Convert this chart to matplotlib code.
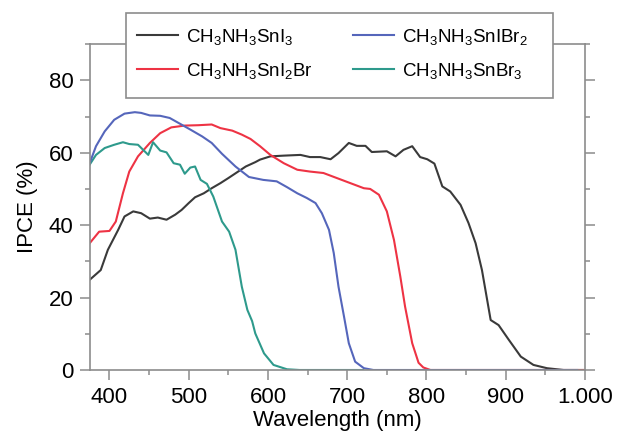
import numpy as np
import matplotlib
matplotlib.use('Agg')
import matplotlib.pyplot as plt
from matplotlib.ticker import MultipleLocator
from matplotlib.patches import Rectangle

plt.rcParams['font.family'] = ['Liberation Sans', 'DejaVu Sans']
plt.rcParams['mathtext.fontset'] = 'custom'
plt.rcParams['mathtext.rm'] = 'Liberation Sans'
plt.rcParams['mathtext.it'] = 'Liberation Sans:italic'

# IPCE spectra (wavelength in nm, IPCE in %)
wl_sni3 = [375, 389, 398, 411, 419, 430, 440, 451, 461, 472, 483, 491, 500, 508, 519, 529,
           540, 550, 561, 572, 584, 590, 603, 620, 641, 653, 666, 679, 689, 702, 712, 723,
           731, 750, 761, 771, 782, 792, 801, 810, 820, 830, 843, 853, 862, 870, 881, 891,
           904, 919, 935, 952, 973, 1000]
ipce_sni3 = [24.9, 27.6, 33.2, 38.7, 42.4, 43.8, 43.3, 41.8, 42.1, 41.5, 42.9, 44.2, 46.1,
             47.7, 48.8, 50.2, 51.6, 53.0, 54.6, 56.2, 57.4, 58.1, 59.0, 59.2, 59.4, 58.8,
             58.8, 58.2, 59.9, 62.7, 61.9, 61.9, 60.2, 60.4, 59.0, 60.8, 61.8, 58.8, 58.2,
             57.0, 50.7, 49.3, 45.6, 40.6, 35.0, 27.6, 13.8, 12.4, 8.3, 3.7, 1.4, 0.5, 0.0, 0.0]

wl_sni2br = [375, 387, 400, 408, 417, 425, 436, 451, 464, 478, 495, 512, 529, 540, 555, 567,
             578, 590, 603, 620, 637, 653, 670, 687, 704, 721, 729, 740, 750, 759, 767, 773,
             782, 790, 796, 805, 1000]
ipce_sni2br = [35.0, 38.2, 38.4, 41.0, 48.8, 54.8, 59.0, 62.7, 65.4, 67.0, 67.5, 67.6, 67.8,
               66.8, 66.1, 65.0, 63.8, 61.8, 59.4, 57.1, 55.3, 54.8, 54.4, 53.0, 51.6, 50.2,
               50.0, 48.4, 43.8, 35.9, 25.8, 17.5, 7.4, 2.0, 0.7, 0.0, 0.0]

wl_snibr2 = [375, 383, 394, 406, 419, 432, 440, 451, 464, 476, 489, 502, 517, 529, 542, 559,
             576, 594, 611, 624, 637, 649, 660, 668, 677, 683, 689, 696, 702, 710, 721, 733, 990]
ipce_snibr2 = [57.1, 61.8, 65.9, 69.1, 70.8, 71.2, 71.0, 70.3, 70.2, 69.6, 68.0, 66.4, 64.5,
               62.7, 59.7, 56.2, 53.3, 52.5, 52.1, 50.5, 48.8, 47.5, 46.1, 43.3, 38.7, 32.3,
               23.0, 14.7, 7.4, 2.3, 0.5, 0.0, 0.0]

wl_snbr3 = [375, 383, 394, 406, 417, 425, 436, 449, 455, 464, 472, 481, 489, 495, 502, 508,
            515, 523, 531, 542, 551, 559, 567, 574, 580, 584, 595, 607, 624, 640, 720]
ipce_snbr3 = [56.7, 59.4, 61.3, 62.2, 62.9, 62.4, 62.2, 59.4, 62.9, 60.6, 60.1, 57.1, 56.7,
              54.2, 55.9, 56.2, 52.5, 51.4, 47.9, 41.0, 38.2, 33.2, 23.0, 16.6, 13.5, 10.1,
              4.6, 1.4, 0.2, 0.0, 0.0]

lbl_sni3 = r'CH$_{\mathrm{3}}$NH$_{\mathrm{3}}$SnI$_{\mathrm{3}}$'
lbl_sni2br = r'CH$_{\mathrm{3}}$NH$_{\mathrm{3}}$SnI$_{\mathrm{2}}$Br'
lbl_snibr2 = r'CH$_{\mathrm{3}}$NH$_{\mathrm{3}}$SnIBr$_{\mathrm{2}}$'
lbl_snbr3 = r'CH$_{\mathrm{3}}$NH$_{\mathrm{3}}$SnBr$_{\mathrm{3}}$'

xticks = [400, 500, 600, 700, 800, 900, 1000]
xticklabels = ['400', '500', '600', '700', '800', '900', '1.000']
yticks = [0, 20, 40, 60, 80]

fig = plt.figure(figsize=(6.21, 4.41), dpi=100)
ax = fig.add_axes([0.145, 0.161, 0.797, 0.739])

lw = 1.5
l1, = ax.plot(wl_sni3, ipce_sni3, color='#3a3a3a', lw=lw, label=lbl_sni3)
l2, = ax.plot(wl_sni2br, ipce_sni2br, color='#ee3344', lw=lw, label=lbl_sni2br)
l4, = ax.plot(wl_snbr3, ipce_snbr3, color='#2e9a8c', lw=lw, label=lbl_snbr3)
l3, = ax.plot(wl_snibr2, ipce_snibr2, color='#5566bb', lw=lw, label=lbl_snibr2)

ax.set_xlim(375.5, 1000)
ax.set_ylim(0, 90)

ax.set_xticks(xticks)
ax.set_xticklabels(xticklabels)
ax.set_yticks(yticks)
ax.xaxis.set_minor_locator(MultipleLocator(50))
ax.yaxis.set_minor_locator(MultipleLocator(10))

spine_col = '#8c8c8c'
for s in ax.spines.values():
    s.set_color(spine_col)
    s.set_linewidth(1.2)

ax.tick_params(axis='both', which='major', direction='out', length=7, width=1.1,
               color=spine_col, labelsize=16, pad=5)
ax.tick_params(axis='both', which='minor', direction='out', length=3.5, width=1.1,
               color=spine_col)
ax.tick_params(axis='y', which='both', right=True)

ax.set_xlabel('Wavelength (nm)', fontsize=16, labelpad=2)
ax.set_ylabel('IPCE (%)', fontsize=16, labelpad=8)

# legend box sits over the top spine
box = Rectangle((0.0727, 0.834), 0.8626, 0.261, transform=ax.transAxes,
                facecolor='white', edgecolor=spine_col, linewidth=1.2,
                clip_on=False, zorder=4)
ax.add_patch(box)

leg = ax.legend(handles=[l1, l2, l3, l4], ncol=2, loc='upper left',
                bbox_to_anchor=(0.095, 1.053), fontsize=13.5, frameon=False,
                handlelength=2.2, handletextpad=0.4, columnspacing=2.15,
                borderpad=0, labelspacing=0.75, borderaxespad=0)
leg.set_zorder(5)

fig.savefig('out.png', dpi=100)
